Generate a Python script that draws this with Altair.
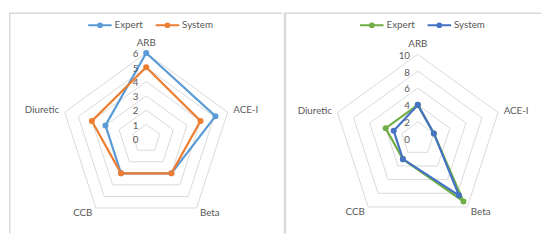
import altair as alt
import pandas as pd

# ---------------- data ----------------
categories = ["ARB", "ACE-I", "Beta", "CCB", "Diuretic"]
series_names = ["Expert", "System"]

left_expert = [6, 5.1, 3, 3, 3]
left_system = [5, 4, 3, 3, 4]
left_ticks = [0, 1, 2, 3, 4, 5, 6]

right_expert = [4, 2, 9.2, 3, 4]
right_system = [4, 2, 8.3, 3, 3]
right_ticks = [0, 2, 4, 6, 8, 10]

left_colors = ["#5B9BD5", "#ED7D31"]
right_colors = ["#70AD47", "#4472C4"]

# ---------------- style ----------------
N = len(categories)
TEXT = "#595959"
GRID = "#d9d9d9"
FRAME = "#d9d9d9"
FONT = "Lato"
FS = 10
LEG_PATH = ("M-1,0L1,0"
            "M0.08,0A0.08,0.08,0,1,1,-0.08,0A0.08,0.08,0,1,1,0.08,0"
            "M0.16,0A0.16,0.16,0,1,1,-0.16,0A0.16,0.16,0,1,1,0.16,0")


def series_df(expert, system):
    rows = []
    for name, vals in zip(series_names, [expert, system]):
        for i in range(N + 1):
            k = i % N
            rows.append({"series": name, "cat": categories[k], "idx": k,
                         "order": i, "value": vals[k]})
    return pd.DataFrame(rows)


def grid_df(ticks):
    rows = []
    for t in ticks:
        if t == 0:
            continue
        for i in range(N + 1):
            rows.append({"level": t, "idx": i % N, "order": i, "value": t})
    return pd.DataFrame(rows)


def polar(ch, extra=0.0):
    return ch.transform_calculate(
        theta=f"datum.idx*2*PI/{N}",
        rr=f"datum.value + {extra}",
    ).transform_calculate(
        px="datum.rr*sin(datum.theta)",
        py="datum.rr*cos(datum.theta)",
    )


def panel(expert, system, ticks, colors, W, H, cx, cy, s, lx, ly, first):
    xdom = [-cx / s, (W - cx) / s]
    ydom = [-(H - cy) / s, cy / s]
    X = alt.X("px:Q", scale=alt.Scale(domain=xdom, nice=False, zero=False), axis=None)
    Y = alt.Y("py:Q", scale=alt.Scale(domain=ydom, nice=False, zero=False), axis=None)
    cscale = alt.Scale(domain=series_names, range=colors)

    dummy = pd.DataFrame({"k": [0]})
    top_rule = alt.Chart(dummy).mark_rule(color=FRAME, strokeWidth=1.5).encode(
        x=alt.value(0), x2=alt.value(W), y=alt.value(0.75))
    if first:
        left_rule = alt.Chart(dummy).mark_rule(color=FRAME, strokeWidth=1.5).encode(
            x=alt.value(0.75), y=alt.value(0), y2=alt.value(H))
    else:
        left_rule = alt.Chart(dummy).mark_rule(color=FRAME, strokeWidth=2.5).encode(
            x=alt.value(1.25), y=alt.value(0), y2=alt.value(H))

    grid = polar(alt.Chart(grid_df(ticks))).mark_line(
        stroke=GRID, strokeWidth=1).encode(
        x=X, y=Y, detail="level:N", order="order:Q")

    sdf = series_df(expert, system)
    lines = polar(alt.Chart(sdf)).mark_line(strokeWidth=2.25).encode(
        x=X, y=Y, order="order:Q",
        color=alt.Color("series:N", scale=cscale, legend=alt.Legend(
            orient="none", legendX=lx, legendY=ly, direction="horizontal",
            title=None, symbolType=LEG_PATH, symbolSize=576, symbolStrokeWidth=2,
            labelFont=FONT, labelFontSize=FS, labelColor=TEXT, labelOffset=2,
            columnPadding=9, padding=0)))
    points = polar(alt.Chart(sdf)).transform_filter("datum.order < %d" % N).mark_circle(
        size=38, opacity=1).encode(
        x=X, y=Y, color=alt.Color("series:N", scale=cscale, legend=None))

    R = max(ticks)
    cdf = pd.DataFrame({"cat": categories, "idx": list(range(N)), "value": [R] * N})
    top_lab = polar(alt.Chart(cdf), 5.5 / s).transform_filter("datum.idx == 0").mark_text(
        align="center", baseline="bottom", font=FONT, fontSize=FS, color=TEXT).encode(
        x=X, y=Y, text="cat:N")
    right_lab = polar(alt.Chart(cdf), 6 / s).transform_filter(
        "datum.idx == 1 || datum.idx == 2").mark_text(
        align="left", baseline="middle", font=FONT, fontSize=FS, color=TEXT).encode(
        x=X, y=Y, text="cat:N")
    left_lab = polar(alt.Chart(cdf), 6 / s).transform_filter(
        "datum.idx == 3 || datum.idx == 4").mark_text(
        align="right", baseline="middle", font=FONT, fontSize=FS, color=TEXT).encode(
        x=X, y=Y, text="cat:N")

    tdf = pd.DataFrame({"value": ticks, "idx": [0] * len(ticks)})
    tick_lab = polar(alt.Chart(tdf)).mark_text(
        align="right", baseline="middle", dx=-8, dy=1.5, font=FONT, fontSize=FS,
        color=TEXT).encode(x=X, y=Y, text=alt.Text("value:Q", format="d"))

    return alt.layer(top_rule, left_rule, grid, lines, points,
                     top_lab, right_lab, left_lab, tick_lab).properties(width=W, height=H)


H = 226
left = panel(left_expert, left_system, left_ticks, left_colors,
             W=279, H=H, cx=140.3, cy=129, s=14.6, lx=80, ly=0, first=True)
right = panel(right_expert, right_system, right_ticks, right_colors,
              W=263, H=H, cx=137, cy=129, s=8.63, lx=77, ly=0, first=False)

chart = alt.hconcat(left, right, spacing=0).resolve_scale(
    color="independent", x="independent", y="independent"
).properties(padding=0, background="white").configure_view(stroke=None)

chart.save("out.html", embed_options={"renderer": "svg", "actions": False})
